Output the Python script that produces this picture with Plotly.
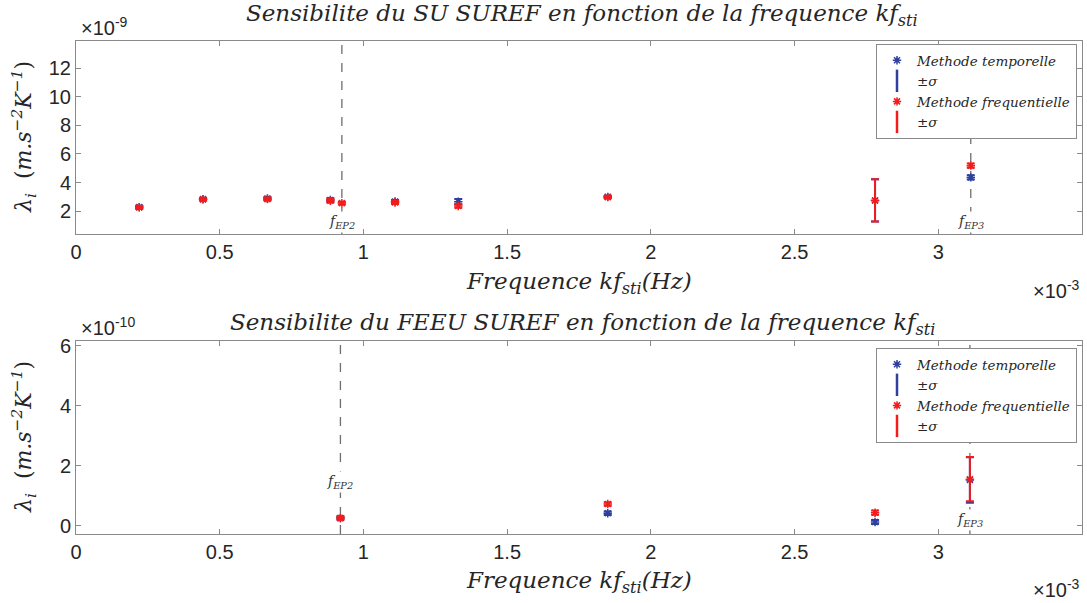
import plotly.graph_objects as go

# top panel: SU SUREF (x in 1e-3 Hz, y in 1e-9)
freq_su = [0.22, 0.442, 0.666, 0.885, 0.925, 1.11, 1.33, 1.85, 2.78, 3.113]
lam_su_temp = [2.28, 2.84, 2.88, 2.78, None, 2.68, 2.66, 3.0, 2.75, 4.36]
sig_su_temp = [0.1, 0.08, 0.1, 0.12, None, 0.1, 0.18, 0.08, 1.48, 0.15]
lam_su_freq = [2.26, 2.82, 2.84, 2.72, 2.56, 2.60, 2.36, 2.98, 2.75, 5.18]
sig_su_freq = [0.1, 0.08, 0.1, 0.12, 0.1, 0.1, 0.12, 0.08, 1.48, 0.15]

# bottom panel: FEEU SUREF (x in 1e-3 Hz, y in 1e-10)
freq_feeu = [0.92, 1.85, 2.78, 3.11]
lam_feeu_temp = [0.25, 0.41, 0.12, 1.52]
sig_feeu_temp = [0.05, 0.06, 0.07, 0.76]
lam_feeu_freq = [0.25, 0.72, 0.43, 1.55]
sig_feeu_freq = [0.05, 0.06, 0.07, 0.74]

# EP frequencies (1e-3 Hz)
f_ep_su = [0.925, 3.113]
f_ep_feeu = [0.92, 3.11]
ep_labels = ["EP2", "EP3"]

x_ticks = [0, 0.5, 1, 1.5, 2, 2.5, 3]
x_ticktext = ["0", "0.5", "1", "1.5", "2", "2.5", "3"]
y_ticks_su = [2, 4, 6, 8, 10, 12]
y_ticks_feeu = [0, 2, 4, 6]

BLUE = "#2f3f9e"
RED = "#f21c1c"
AXIS = "#8a8a8a"
TXT = "#262626"
SANS = "Liberation Sans, Arial, sans-serif"
SERIF = "DejaVu Serif, serif"

W, H = 1087, 603


def fx(px):
    return px / W


def fy(py):
    return (H - py) / H


xdom = [fx(76), fx(1082)]
ydom_top = [fy(234), fy(41)]
ydom_bot = [fy(534), fy(341)]

fig = go.Figure()


def add_panel(fig, xa, ya, freq, lt, st, lf, sf, legendgroup):
    for lam, sig, col, name in [(lt, st, BLUE, "Methode temporelle"),
                                (lf, sf, RED, "Methode frequentielle")]:
        fig.add_trace(go.Scatter(
            x=freq, y=lam, mode="markers", xaxis=xa, yaxis=ya,
            marker=dict(symbol="asterisk-open", size=7, color=col,
                        line=dict(color=col, width=1.5)),
            error_y=dict(type="data", array=sig, color=col,
                         thickness=2, width=4),
            name="<i>" + name + "</i>", legend=legendgroup,
        ))
        # legend entry for the error bars
        fig.add_trace(go.Scatter(
            x=[None], y=[None], mode="markers", xaxis=xa, yaxis=ya,
            marker=dict(symbol="line-ns-open", size=16, color=col,
                        line=dict(color=col, width=2.5)),
            name="±<i>σ</i>", legend=legendgroup,
        ))


add_panel(fig, "x", "y", freq_su, lam_su_temp, sig_su_temp,
          lam_su_freq, sig_su_freq, "legend")
add_panel(fig, "x2", "y2", freq_feeu, lam_feeu_temp, sig_feeu_temp,
          lam_feeu_freq, sig_feeu_freq, "legend2")

# dashed EP lines and labels
label_pos = {"y": [0.062, 0.062], "y2": [0.27, 0.073]}
for xr, yr, fe in [("x", "y", f_ep_su), ("x2", "y2", f_ep_feeu)]:
    for i, f in enumerate(fe):
        fig.add_shape(type="line", xref=xr, yref=yr + " domain",
                      x0=f, x1=f, y0=0, y1=1, layer="below",
                      line=dict(color="#6e6e6e", width=1.3, dash="dash"))
        fig.add_annotation(x=f, xref=xr, y=label_pos[yr][i], yref=yr + " domain",
                           xanchor="center", yanchor="middle",
                           text="<i>f<sub>" + ep_labels[i] + "</sub></i>",
                           showarrow=False, bgcolor="white",
                           font=dict(family=SERIF, size=14, color="#333"))

axis_common = dict(showline=True, linecolor=AXIS, linewidth=1, mirror="allticks",
                   ticks="inside", ticklen=5, tickcolor=AXIS, showgrid=False,
                   zeroline=False, automargin=False,
                   tickfont=dict(family=SANS, size=20, color=TXT))

fig.update_layout(
    width=W, height=H, margin=dict(l=0, r=0, t=0, b=0),
    plot_bgcolor="white", paper_bgcolor="white",
    xaxis=dict(domain=xdom, anchor="y", range=[0, 3.5], tickvals=x_ticks,
               ticktext=x_ticktext, **axis_common),
    yaxis=dict(domain=ydom_top, anchor="x", range=[0.4, 13.9],
               tickvals=y_ticks_su, **axis_common),
    xaxis2=dict(domain=xdom, anchor="y2", range=[0, 3.5], tickvals=x_ticks,
                ticktext=x_ticktext, **axis_common),
    yaxis2=dict(domain=ydom_bot, anchor="x2", range=[-0.28, 6.16],
                tickvals=y_ticks_feeu, **axis_common),
    legend=dict(x=fx(1077), xanchor="right", y=fy(44), yanchor="top",
                bgcolor="white", bordercolor=AXIS, borderwidth=1,
                font=dict(family=SERIF, size=13.5, color=TXT)),
    legend2=dict(x=fx(1077), xanchor="right", y=fy(348), yanchor="top",
                 bgcolor="white", bordercolor=AXIS, borderwidth=1,
                 font=dict(family=SERIF, size=13.5, color=TXT)),
)


def label(text, xpx, ypx, size, family=SERIF, angle=0, xanchor="center"):
    fig.add_annotation(x=fx(xpx), y=fy(ypx), xref="paper", yref="paper",
                       xanchor=xanchor, yanchor="middle", textangle=angle,
                       text=text, showarrow=False,
                       font=dict(family=family, size=size, color=TXT))


label("<i>Sensibilite du SU SUREF en fonction de la frequence kf<sub>sti</sub></i>",
      582, 15, 23)
label("<i>Sensibilite du FEEU SUREF en fonction de la frequence kf<sub>sti</sub></i>",
      582, 324, 23)

for ypx in [283, 582]:
    label("<i>Frequence kf<sub>sti</sub>(Hz)</i>", 579, ypx, 23)

for ypx in [137, 437]:
    label("<i>λ<sub>i</sub></i>  (<i>m.s<sup>−2</sup>K<sup>−1</sup></i>)",
          24, ypx, 22, angle=-90)

# exponent labels
label("×10<sup>-9</sup>", 79, 26, 20, family=SANS, xanchor="left")
label("×10<sup>-10</sup>", 79, 326, 20, family=SANS, xanchor="left")
label("×10<sup>-3</sup>", 1082, 289, 20, family=SANS, xanchor="right")
label("×10<sup>-3</sup>", 1082, 588, 20, family=SANS, xanchor="right")

# the page body has a default 8px margin; drop it so the figure fills the window
fig.write_html("out.html", config={"displayModeBar": False},
               post_script="document.body.style.margin = '0px';")
